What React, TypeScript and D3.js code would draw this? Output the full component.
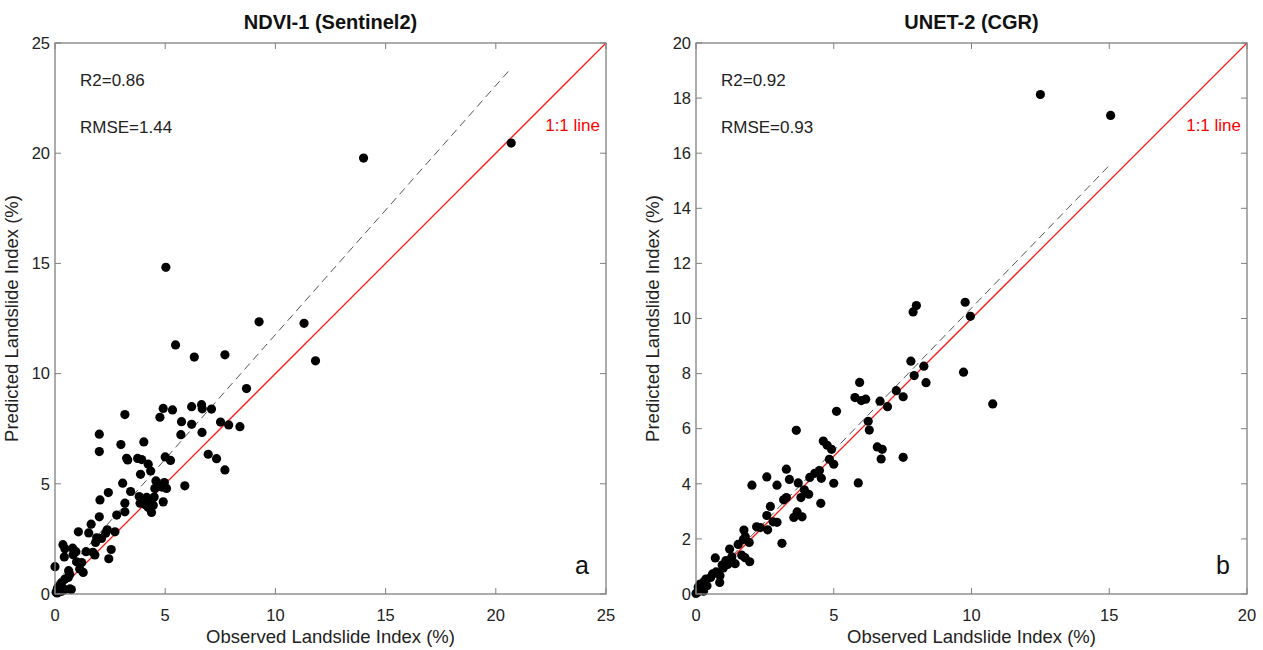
import React, { useRef, useEffect } from 'react';
import * as d3 from 'd3';

// panel a: NDVI-1 (Sentinel2)
const ndviObserved = [
  20.7, 14.0, 5.03, 9.26, 11.3, 5.47, 6.32, 7.71, 11.82, 8.69,
  4.91, 5.33, 3.17, 6.2, 6.65, 6.68, 7.1, 4.76, 5.74, 6.2,
  7.51, 7.88, 8.39, 5.71, 6.67, 2.01, 2.01, 2.99, 4.03, 3.25,
  3.3, 3.75, 3.93, 4.23, 5.0, 5.24, 6.95, 7.33, 7.71, 4.34,
  3.88, 3.07, 4.58, 4.96, 5.89, 5.06, 4.53, 2.42, 3.43, 2.04,
  3.82, 4.16, 3.17, 3.86, 4.38, 4.46, 4.91, 4.38, 4.23, 3.17,
  2.8, 2.01, 1.64, 1.06, 1.53, 2.37, 2.3, 2.72, 1.89, 2.11,
  1.84, 1.41, 1.72, 1.81, 2.55, 2.44, 0.36, 0.8, 0.42, 0.82,
  0.95, 1.21, 1.28, 1.12, 0.62, 0.67, 0.0, 0.45, 0.3, 0.15,
  0.74, 0.45, 0.05, 0.1, 0.45, 0.98, 0.6, 0.23, 0.12, 0.3,
  0.1, 0.68, 4.3, 4.5, 3.95, 4.1, 4.85,
];
const ndviPredicted = [
  20.46, 19.78, 14.82, 12.35, 12.28, 11.3, 10.75, 10.85, 10.58, 9.32,
  8.42, 8.35, 8.14, 8.5, 8.59, 8.4, 8.39, 8.02, 7.82, 7.7,
  7.8, 7.67, 7.59, 7.23, 7.33, 7.25, 6.46, 6.78, 6.9, 6.16,
  6.08, 6.15, 6.1, 5.89, 6.22, 6.06, 6.34, 6.14, 5.63, 5.58,
  5.43, 5.03, 5.13, 5.06, 4.91, 4.79, 4.79, 4.6, 4.65, 4.27,
  4.42, 4.38, 4.12, 4.12, 4.3, 4.03, 4.18, 3.7, 3.93, 3.73,
  3.58, 3.5, 3.17, 2.82, 2.77, 2.91, 2.76, 2.82, 2.55, 2.52,
  2.34, 1.92, 1.89, 1.77, 2.02, 1.6, 2.24, 2.08, 1.68, 1.78,
  1.92, 1.43, 0.98, 1.13, 1.06, 0.88, 1.24, 0.68, 0.5, 0.3,
  0.2, 0.2, 0.08, 0.2, 2.05, 1.46, 0.75, 0.38, 0.27, 0.12,
  0.05, 0.23, 4.15, 4.4, 4.3, 4.05, 4.85,
];

// panel b: UNET-2 (CGR)
const unetObserved = [
  12.5, 15.05, 8.0, 7.88, 9.77, 9.96, 7.8, 8.27, 7.92, 8.35,
  9.71, 10.77, 5.94, 5.77, 6.0, 6.16, 6.68, 7.27, 7.52, 6.95,
  5.1, 6.25, 6.29, 6.58, 6.76, 6.72, 7.52, 4.92, 5.0, 5.0,
  5.89, 3.64, 4.62, 4.76, 4.84, 3.28, 3.39, 3.71, 4.13, 4.31,
  4.48, 4.55, 2.94, 2.57, 2.03, 4.09, 3.93, 3.81, 3.28, 3.18,
  4.53, 3.67, 3.55, 3.85, 2.7, 2.57, 2.8, 2.94, 2.6, 2.2,
  2.33, 3.12, 1.74, 1.79, 1.72, 1.53, 1.93, 1.66, 1.78, 1.95,
  1.22, 1.42, 1.08, 1.15, 0.7, 0.99, 0.87, 0.73, 0.6, 0.86,
  0.53, 0.36, 0.15, 0.22, 0.05, 0.1, 0.27, 0.0, 0.4, 0.3,
  0.08, 1.3, 0.95,
];
const unetPredicted = [
  18.13, 17.37, 10.47, 10.24, 10.59, 10.08, 8.45, 8.27, 7.93, 7.67,
  8.05, 6.9, 7.68, 7.13, 7.02, 7.07, 7.0, 7.38, 7.16, 6.8,
  6.63, 6.27, 5.95, 5.34, 5.25, 4.9, 4.96, 5.25, 4.71, 4.02,
  4.03, 5.94, 5.55, 5.4, 4.89, 4.53, 4.16, 4.03, 4.23, 4.38,
  4.48, 4.2, 3.95, 4.25, 3.95, 3.62, 3.78, 3.5, 3.5, 3.42,
  3.29, 2.98, 2.78, 2.8, 3.18, 2.85, 2.62, 2.6, 2.33, 2.44,
  2.41, 1.84, 2.32, 2.08, 1.98, 1.8, 1.87, 1.41, 1.32, 1.17,
  1.63, 1.1, 1.21, 1.07, 1.31, 0.94, 0.66, 0.8, 0.73, 0.42,
  0.6, 0.54, 0.36, 0.18, 0.06, 0.13, 0.1, 0.02, 0.3, 0.45,
  0.25, 1.35, 1.05,
];

const ndviTicks = [0, 5, 10, 15, 20, 25];
const unetXTicks = [0, 5, 10, 15, 20];
const unetYTicks = [0, 2, 4, 6, 8, 10, 12, 14, 16, 18, 20];

// fitted lines: [slope, intercept, max observed]
const ndviFit = [1.13, 0.47, 20.7];
const unetFit = [1.035, 0.03, 15.08];

const panels = [
  {
    title: 'NDVI-1 (Sentinel2)', letter: 'a', r2: 'R2=0.86', rmse: 'RMSE=1.44',
    obs: ndviObserved, pred: ndviPredicted, xMax: 25, yMax: 25,
    xTicks: ndviTicks, yTicks: ndviTicks, fit: ndviFit, left: 55,
  },
  {
    title: 'UNET-2 (CGR)', letter: 'b', r2: 'R2=0.92', rmse: 'RMSE=0.93',
    obs: unetObserved, pred: unetPredicted, xMax: 20, yMax: 20,
    xTicks: unetXTicks, yTicks: unetYTicks, fit: unetFit, left: 696,
  },
];

const W = 1263;
const H = 650;
const top = 43;
const size = 551;
const font = 'Arial, "Liberation Sans", sans-serif';

const App = () => {
  const svgRef = useRef(null);

  useEffect(() => {
    const svg = d3.select(svgRef.current);
    svg.selectAll('*').remove();

    panels.forEach(p => {
      const x = d3.scaleLinear().domain([0, p.xMax]).range([p.left, p.left + size]);
      const y = d3.scaleLinear().domain([0, p.yMax]).range([top + size, top]);
      const g = svg.append('g');

      // 1:1 line
      g.append('line')
        .attr('x1', x(0)).attr('y1', y(0))
        .attr('x2', x(p.xMax)).attr('y2', y(p.yMax))
        .attr('stroke', '#ff1a1a').attr('stroke-width', 1.3);

      // regression line
      const [slope, icpt, xEnd] = p.fit;
      g.append('line')
        .attr('x1', x(0)).attr('y1', y(icpt))
        .attr('x2', x(xEnd)).attr('y2', y(slope * xEnd + icpt))
        .attr('stroke', '#555').attr('stroke-width', 1)
        .attr('stroke-dasharray', '8,5');

      g.selectAll('circle.pt')
        .data(p.obs.map((o, i) => [o, p.pred[i]]))
        .enter()
        .append('circle')
        .attr('class', 'pt')
        .attr('cx', d => x(d[0]))
        .attr('cy', d => y(d[1]))
        .attr('r', 4.6)
        .attr('fill', '#000');

      // box + inward ticks on all sides
      const axisColor = '#808080';
      g.append('rect')
        .attr('x', p.left).attr('y', top)
        .attr('width', size).attr('height', size)
        .attr('fill', 'none').attr('stroke', axisColor).attr('stroke-width', 1.3);

      p.xTicks.forEach(t => {
        g.append('line').attr('x1', x(t)).attr('x2', x(t))
          .attr('y1', top + size).attr('y2', top + size - 6)
          .attr('stroke', axisColor);
        g.append('line').attr('x1', x(t)).attr('x2', x(t))
          .attr('y1', top).attr('y2', top + 6)
          .attr('stroke', axisColor);
        g.append('text').attr('x', x(t)).attr('y', top + size + 27)
          .attr('text-anchor', 'middle')
          .attr('font-family', font).attr('font-size', 16.5).attr('fill', '#222')
          .text(t);
      });
      p.yTicks.forEach(t => {
        g.append('line').attr('x1', p.left).attr('x2', p.left + 6)
          .attr('y1', y(t)).attr('y2', y(t))
          .attr('stroke', axisColor);
        g.append('line').attr('x1', p.left + size).attr('x2', p.left + size - 6)
          .attr('y1', y(t)).attr('y2', y(t))
          .attr('stroke', axisColor);
        g.append('text').attr('x', p.left - 5).attr('y', y(t))
          .attr('dy', '0.35em')
          .attr('text-anchor', 'end')
          .attr('font-family', font).attr('font-size', 16.5).attr('fill', '#222')
          .text(t);
      });

      const cx = p.left + size / 2;
      g.append('text').attr('x', cx).attr('y', 29)
        .attr('text-anchor', 'middle')
        .attr('font-family', font).attr('font-size', 20).attr('font-weight', 'bold')
        .attr('fill', '#111')
        .text(p.title);

      g.append('text').attr('x', cx).attr('y', 643)
        .attr('text-anchor', 'middle')
        .attr('font-family', font).attr('font-size', 18.5).attr('fill', '#222')
        .text('Observed Landslide Index (%)');

      g.append('text')
        .attr('transform', `translate(${p.left - 37},${top + size / 2}) rotate(-90)`)
        .attr('text-anchor', 'middle')
        .attr('font-family', font).attr('font-size', 18.5).attr('fill', '#222')
        .text('Predicted Landslide Index (%)');

      g.append('text').attr('x', p.left + 25).attr('y', 86)
        .attr('font-family', font).attr('font-size', 17).attr('fill', '#222')
        .text(p.r2);
      g.append('text').attr('x', p.left + 25).attr('y', 133)
        .attr('font-family', font).attr('font-size', 17).attr('fill', '#222')
        .text(p.rmse);

      g.append('text').attr('x', p.left + size - 6).attr('y', 131)
        .attr('text-anchor', 'end')
        .attr('font-family', font).attr('font-size', 17).attr('fill', '#ff0000')
        .text('1:1 line');

      g.append('text').attr('x', p.left + size - 24).attr('y', 574)
        .attr('text-anchor', 'middle')
        .attr('font-family', font).attr('font-size', 25).attr('fill', '#111')
        .text(p.letter);
    });
  }, []);

  return (
    <svg
      ref={svgRef}
      width={W}
      height={H}
      style={{ position: 'absolute', left: 0, top: 0, background: '#fff' }}
    ></svg>
  );
};

export default App;
